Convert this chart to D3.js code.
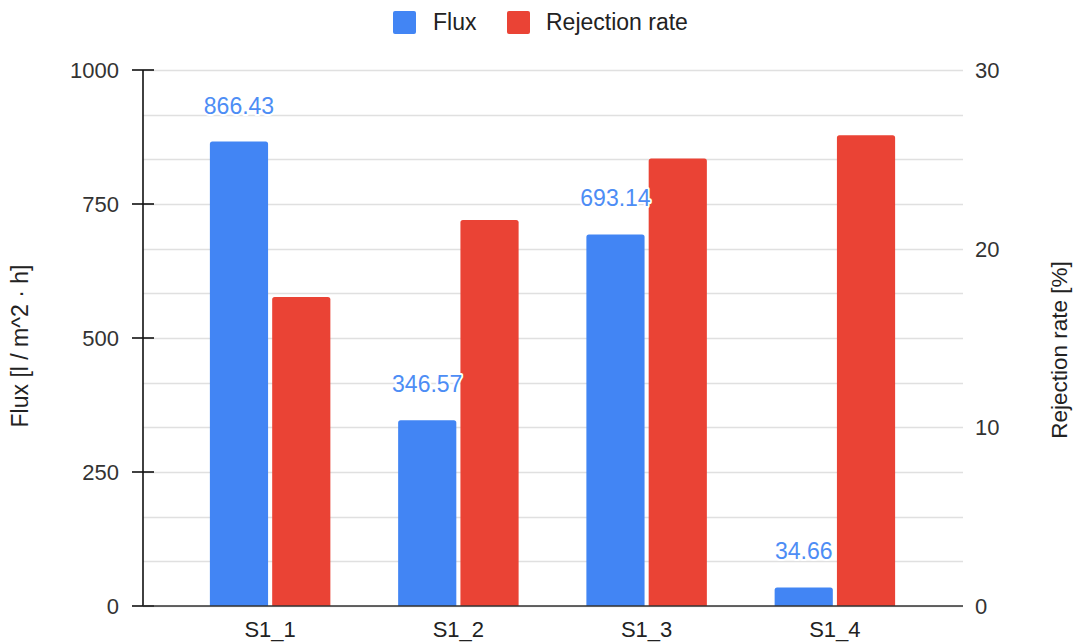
<!DOCTYPE html>
<html>
<head>
<meta charset="utf-8">
<script src="https://cdn.jsdelivr.net/npm/d3@7"></script>
<style>
  html, body { margin: 0; padding: 0; background: #fff; }
  svg { display: block; font-family: "Liberation Sans", Arial, sans-serif; }
</style>
</head>
<body>
<svg id="chart" width="1078" height="643"></svg>
<script>
// Samples on the x axis
const categories = ["S1_1", "S1_2", "S1_3", "S1_4"];
// Flux per sample [l / m^2 · h] (left axis)
const fluxValues = [866.43, 346.57, 693.14, 34.66];
// Rejection rate per sample [%] (right axis)
const rejectionValues = [17.3, 21.6, 25.05, 26.35];
// Axis ticks
const fluxTicks = [0, 250, 500, 750, 1000];
const rejectionTicks = [0, 10, 20, 30];
const seriesNames = ["Flux", "Rejection rate"];
const seriesColors = ["#4285f4", "#ea4335"];

const svg = d3.select("#chart");
const plot = { left: 143, right: 963, top: 70, bottom: 606 };

const yFlux = d3.scaleLinear().domain([0, 1000]).range([plot.bottom, plot.top]);
const yRej = d3.scaleLinear().domain([0, 30]).range([plot.bottom, plot.top]);

const x0 = d3.scaleBand().domain(categories).range([176, 929])
  .paddingInner(0.36).paddingOuter(0.18);
const x1 = d3.scaleBand().domain(seriesNames).range([0, x0.bandwidth()])
  .paddingInner(0.066);

// Gridlines every 1/12 of the range
const gridVals = d3.range(0, 13).map(i => i * 1000 / 12);
svg.append("g").selectAll("line").data(gridVals).join("line")
  .attr("x1", plot.left).attr("x2", plot.right)
  .attr("y1", d => Math.round(yFlux(d)) + 0.5).attr("y2", d => Math.round(yFlux(d)) + 0.5)
  .attr("stroke", "#e0e0e0").attr("stroke-width", 1.3);

// Bars with rounded top corners
function barPath(x, y, w, h, r) {
  r = Math.min(r, h, w / 2);
  return `M${x},${y + h}V${y + r}Q${x},${y} ${x + r},${y}H${x + w - r}Q${x + w},${y} ${x + w},${y + r}V${y + h}Z`;
}

const rows = categories.map((c, i) => ({ cat: c, flux: fluxValues[i], rej: rejectionValues[i] }));

const groups = svg.append("g").selectAll("g").data(rows).join("g")
  .attr("transform", d => `translate(${x0(d.cat)},0)`);

groups.append("path")
  .attr("fill", seriesColors[0])
  .attr("d", d => barPath(x1("Flux"), yFlux(d.flux), x1.bandwidth(), plot.bottom - yFlux(d.flux), 2.5));

groups.append("path")
  .attr("fill", seriesColors[1])
  .attr("d", d => barPath(x1("Rejection rate"), yRej(d.rej), x1.bandwidth(), plot.bottom - yRej(d.rej), 2.5));

// Value labels over flux bars
groups.append("text")
  .attr("x", x1("Flux") + x1.bandwidth() / 2)
  .attr("y", d => yFlux(d.flux) - 28)
  .attr("text-anchor", "middle")
  .attr("font-size", 23)
  .attr("fill", "#4d8df5")
  .attr("stroke", "#fff").attr("stroke-width", 4).attr("paint-order", "stroke")
  .attr("stroke-linejoin", "round")
  .text(d => d.flux.toFixed(2));

// Left axis
const leftAxis = svg.append("g");
leftAxis.append("line")
  .attr("x1", plot.left).attr("x2", plot.left)
  .attr("y1", plot.top).attr("y2", plot.bottom)
  .attr("stroke", "#111").attr("stroke-width", 1.6);
leftAxis.selectAll("line.tick").data(fluxTicks).join("line").attr("class", "tick")
  .attr("x1", plot.left - 11).attr("x2", plot.left + 11)
  .attr("y1", d => yFlux(d)).attr("y2", d => yFlux(d))
  .attr("stroke", "#111").attr("stroke-width", 1.6);
leftAxis.selectAll("text").data(fluxTicks).join("text")
  .attr("x", 119).attr("y", d => yFlux(d) + 8)
  .attr("text-anchor", "end").attr("font-size", 22).attr("fill", "#333")
  .text(d => d);

// Right axis labels
svg.append("g").selectAll("text").data(rejectionTicks).join("text")
  .attr("x", 975).attr("y", d => yRej(d) + 8)
  .attr("text-anchor", "start").attr("font-size", 22).attr("fill", "#333")
  .text(d => d);

// Baseline
svg.append("line")
  .attr("x1", plot.left).attr("x2", plot.right)
  .attr("y1", plot.bottom).attr("y2", plot.bottom)
  .attr("stroke", "#333").attr("stroke-width", 1.6);

// Category labels
svg.append("g").selectAll("text").data(categories).join("text")
  .attr("x", d => x0(d) + x0.bandwidth() / 2).attr("y", 637)
  .attr("text-anchor", "middle").attr("font-size", 22).attr("fill", "#222")
  .text(d => d);

// Axis titles
svg.append("text")
  .attr("transform", "translate(28,346) rotate(-90)")
  .attr("text-anchor", "middle").attr("font-size", 23).attr("fill", "#222")
  .text("Flux [l / m^2 · h]");
svg.append("text")
  .attr("transform", "translate(1067,350) rotate(-90)")
  .attr("text-anchor", "middle").attr("font-size", 22.5).attr("fill", "#222")
  .text("Rejection rate [%]");

// Legend
const legend = svg.append("g");
const legendItems = [
  { name: seriesNames[0], color: seriesColors[0], x: 393, tx: 433 },
  { name: seriesNames[1], color: seriesColors[1], x: 507, tx: 546 }
];
legend.selectAll("rect").data(legendItems).join("rect")
  .attr("x", d => d.x).attr("y", 11).attr("width", 23).attr("height", 23)
  .attr("rx", 2).attr("fill", d => d.color);
legend.selectAll("text").data(legendItems).join("text")
  .attr("x", d => d.tx).attr("y", 30)
  .attr("font-size", 23).attr("fill", "#222")
  .text(d => d.name);
</script>
</body>
</html>
